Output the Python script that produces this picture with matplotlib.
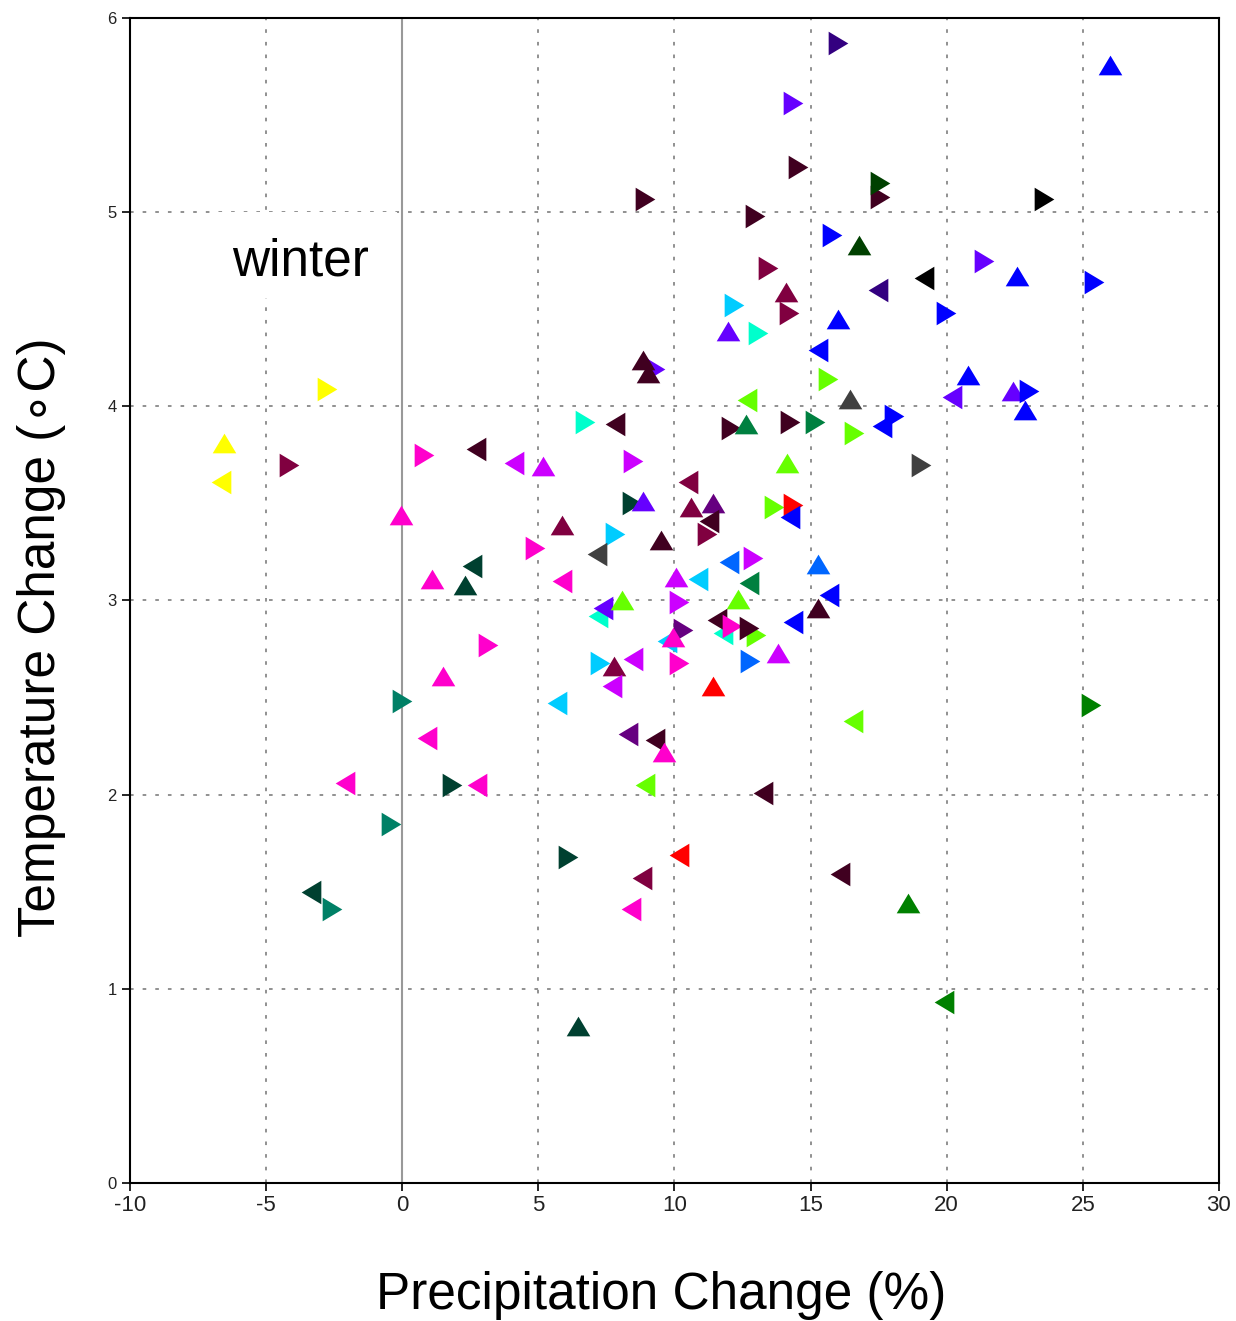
import matplotlib
matplotlib.use("Agg")
import matplotlib.pyplot as plt
from matplotlib.patches import Rectangle

plt.rcParams['axes.unicode_minus'] = False

# model runs: precipitation change (%), temperature change (C), marker, colour
precip = [9.3, 15.99, 25.99, 14.37, 14.52, 17.55, 17.55, 23.57, 8.93, 12.94,
          15.8, 16.76, 13.42, 21.36, 22.57, 19.15, 25.4, 17.46, 14.08, 14.19,
          19.96, 15.99, 12.17, 11.95, 13.05, 15.26, 8.86, 9.04, 15.63, 20.77,
          -2.76, 16.43, 12.65, 20.18, 22.43, 23.01, 22.87, 18.05, 17.61, 6.73,
          7.83, 12.06, 12.61, 14.26, 15.15, 16.58, 19.04, -6.54, -6.65, -4.15,
          0.81, 2.72, 4.12, 5.18, 8.49, -0.04, 5.85, 4.89, 5.88, 1.1,
          2.57, 2.32, 8.45, 8.86, 10.51, 10.59, 11.4, 11.25, 11.21, 9.49,
          7.83, 7.17, 10.04, 10.85, 11.99, 12.87, 12.72, 12.35, 15.26, 15.66,
          15.29, 14.34, 7.2, 7.39, 8.09, 10.15, 11.8, 11.58, 12.13, 12.98,
          12.72, 9.74, 10.33, 9.96, 12.79, 13.79, 10.15, 7.28, 7.76, 8.49,
          7.72, 11.43, 13.64, 14.37, 14.26, 14.15, 3.16, 1.51, 0.0, 5.7,
          0.92, -2.1, 1.84, 2.76, 8.9, 13.26, -0.42, 6.1, 10.18, 8.79,
          16.07, -3.36, -2.59, 8.4, 18.57, 19.9, 6.47, 25.3, 16.54, 8.31,
          9.3, 9.63]
temp = [4.19, 5.87, 5.76, 5.56, 5.23, 5.08, 5.15, 5.07, 5.07, 4.98,
        4.88, 4.83, 4.71, 4.75, 4.67, 4.66, 4.64, 4.6, 4.59, 4.48,
        4.48, 4.45, 4.52, 4.39, 4.38, 4.29, 4.24, 4.17, 4.14, 4.16,
        4.09, 4.04, 4.03, 4.05, 4.08, 4.08, 3.98, 3.95, 3.9, 3.92,
        3.91, 3.89, 3.91, 3.92, 3.92, 3.86, 3.7, 3.81, 3.61, 3.7,
        3.75, 3.78, 3.71, 3.69, 3.72, 3.44, 3.39, 3.27, 3.1, 3.11,
        3.18, 3.08, 3.5, 3.51, 3.61, 3.48, 3.5, 3.41, 3.34, 3.31,
        3.34, 3.24, 3.12, 3.11, 3.2, 3.22, 3.09, 3.01, 3.19, 3.03,
        2.96, 2.89, 2.92, 2.96, 3.0, 2.99, 2.83, 2.9, 2.87, 2.82,
        2.86, 2.79, 2.85, 2.81, 2.69, 2.73, 2.68, 2.68, 2.66, 2.7,
        2.56, 2.56, 3.48, 3.49, 3.43, 3.71, 2.77, 2.61, 2.48, 2.47,
        2.29, 2.06, 2.05, 2.05, 2.05, 2.01, 1.85, 1.68, 1.69, 1.57,
        1.59, 1.5, 1.41, 1.41, 1.44, 0.93, 0.81, 2.46, 2.38, 2.31,
        2.28, 2.22]
shape = ['>', '>', '^', '>', '>', '>', '>', '>', '>', '>',
         '>', '^', '>', '>', '^', '<', '>', '<', '^', '>',
         '>', '^', '>', '^', '>', '<', '^', '^', '>', '^',
         '>', '^', '<', '<', '^', '>', '^', '>', '<', '>',
         '<', '>', '^', '>', '>', '>', '>', '^', '<', '>',
         '>', '<', '<', '^', '>', '^', '^', '>', '<', '^',
         '<', '^', '>', '^', '<', '^', '^', '<', '>', '^',
         '>', '<', '^', '<', '<', '>', '<', '^', '^', '<',
         '^', '<', '<', '<', '^', '>', '<', '<', '>', '>',
         '>', '<', '>', '^', '>', '^', '>', '>', '^', '<',
         '<', '^', '>', '>', '<', '^', '>', '^', '>', '<',
         '<', '<', '>', '<', '<', '<', '>', '>', '<', '<',
         '<', '<', '>', '<', '^', '<', '^', '>', '<', '<',
         '<', '^']
colour = ['violet', 'indigo', 'blue', 'violet', 'darkmaroon', 'darkmaroon', 'darkgreen', 'black', 'darkmaroon', 'darkmaroon',
          'blue', 'darkgreen', 'maroon', 'violet', 'blue', 'black', 'blue', 'indigo', 'maroon', 'maroon',
          'blue', 'blue', 'deepsky', 'violet', 'aqua', 'blue', 'darkmaroon', 'darkmaroon', 'lawn', 'blue',
          'yellow', 'darkgray', 'lawn', 'violet', 'violet', 'blue', 'blue', 'blue', 'blue', 'aqua',
          'darkmaroon', 'darkmaroon', 'medgreen', 'darkmaroon', 'medgreen', 'lawn', 'darkgray', 'yellow', 'yellow', 'maroon',
          'magenta', 'darkmaroon', 'purple', 'purple', 'purple', 'magenta', 'maroon', 'magenta', 'magenta', 'magenta',
          'vdarkgreen', 'vdarkgreen', 'vdarkgreen', 'violet', 'maroon', 'maroon', 'darkpurple', 'darkmaroon', 'maroon', 'darkmaroon',
          'deepsky', 'darkgray', 'purple', 'deepsky', 'azure', 'purple', 'medgreen', 'lawn', 'azure', 'blue',
          'darkmaroon', 'blue', 'aqua', 'violet', 'lawn', 'purple', 'aqua', 'darkmaroon', 'magenta', 'lawn',
          'darkmaroon', 'deepsky', 'darkpurple', 'magenta', 'azure', 'purple', 'magenta', 'deepsky', 'maroon', 'purple',
          'purple', 'red', 'lawn', 'red', 'blue', 'lawn', 'magenta', 'magenta', 'teal', 'deepsky',
          'magenta', 'magenta', 'vdarkgreen', 'magenta', 'lawn', 'darkmaroon', 'teal', 'vdarkgreen', 'red', 'maroon',
          'darkmaroon', 'vdarkgreen', 'teal', 'magenta', 'green', 'green', 'vdarkgreen', 'green', 'lawn', 'darkpurple',
          'darkmaroon', 'magenta']

palette = {
    'yellow': '#ffff00', 'maroon': '#800040', 'darkmaroon': '#400020',
    'magenta': '#ff00cc', 'purple': '#cc00ff', 'violet': '#6600ff',
    'indigo': '#330080', 'darkpurple': '#660080', 'blue': '#0000ff',
    'azure': '#0066ff', 'deepsky': '#00ccff', 'aqua': '#00ffcc',
    'teal': '#008066', 'vdarkgreen': '#004030', 'darkgreen': '#004000',
    'medgreen': '#008040', 'green': '#008000', 'lawn': '#66ff00',
    'red': '#ff0000', 'darkgray': '#404040', 'black': '#000000',
}

# triangles a bit wider than tall
tri = {
    '^': [(-1.2, -1), (1.2, -1), (0, 1)],
    '>': [(-1, -1.2), (-1, 1.2), (1, 0)],
    '<': [(1, -1.2), (1, 1.2), (-1, 0)],
}

xticks = [-10, -5, 0, 5, 10, 15, 20, 25, 30]
yticks = [0, 1, 2, 3, 4, 5, 6]

fig = plt.figure(figsize=(12.36, 13.21), dpi=100)
ax = fig.add_axes([0.1052, 0.1045, 0.881, 0.8819])
ax.set_xlim(-10, 30)
ax.set_ylim(0, 6)
ax.set_xticks(xticks)
ax.set_yticks(yticks)

for v in xticks[1:-1]:
    ax.axvline(v, color='#888888', lw=1.3, ls=(0, (2, 5)), zorder=1)
for v in yticks[1:-1]:
    ax.axhline(v, color='#888888', lw=1.3, ls=(0, (2, 5)), zorder=1)
ax.axvline(0, color='#999999', lw=1.5, zorder=1.5)

ax.add_patch(Rectangle((-7.0, 4.56), 6.8, 0.443, facecolor='white',
                       edgecolor='none', zorder=2))
ax.text(-6.25, 4.675, 'winter', fontsize=37, family='Liberation Sans',
        ha='left', va='baseline', zorder=3)

for x, y, m, c in zip(precip, temp, shape, colour):
    ax.plot(x, y, marker=tri[m], ms=17, color=palette[c], mew=0,
            ls='none', zorder=4)

for s in ax.spines.values():
    s.set_linewidth(1.5)
ax.tick_params(direction='out', length=6, width=1.2, color='black')
ax.tick_params(axis='x', pad=3)
for lab in ax.get_xticklabels():
    lab.set_family('Liberation Sans')
    lab.set_fontsize(16)
    lab.set_color('#222222')
for lab in ax.get_yticklabels():
    lab.set_family('Liberation Sans')
    lab.set_fontsize(12)
    lab.set_color('#222222')

fig.text(661 / 1236, 1 - 1295 / 1321, 'Precipitation Change (%)', fontsize=37,
         family=['Liberation Sans', 'DejaVu Sans'], ha='center', va='center')
fig.text(42 / 1236, 1 - 637 / 1321, 'Temperature Change (\u2218C)', fontsize=37,
         family=['Liberation Sans', 'DejaVu Sans'], ha='center', va='center',
         rotation=90)

fig.savefig('out.png', dpi=100)
